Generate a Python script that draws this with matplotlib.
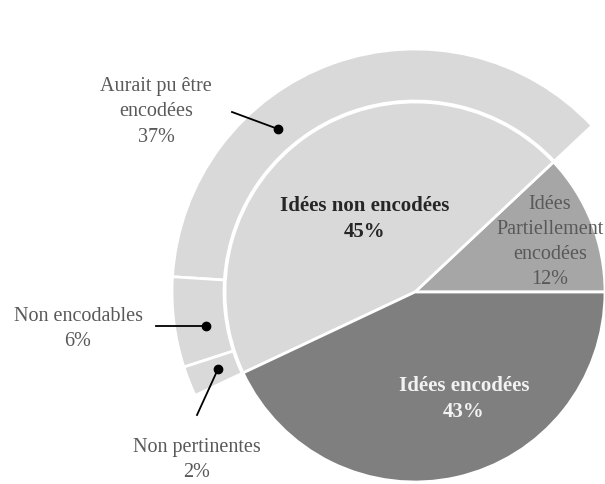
import matplotlib.pyplot as plt
import numpy as np

# inner pie: share of ideas
inner_labels = ['Idées\nPartiellement\nencodées', 'Idées non encodées', 'Idées encodées']
inner_values = [12, 45, 43]
inner_colors = ['#a6a6a6', '#d9d9d9', '#7f7f7f']

# outer ring: breakdown of the non-encoded ideas
outer_labels = ['Aurait pu être\nencodées', 'Non encodables', 'Non pertinentes']
outer_values = [37, 6, 2]

plt.rcParams['font.family'] = ['Liberation Serif', 'DejaVu Serif']

W, H = 605, 485
fig = plt.figure(figsize=(W / 100, H / 100), dpi=100)
ax = fig.add_axes([0, 0, 1, 1])

cx, cy = 415, H - 293
r_in, r_out = 190, 243

ax.pie(inner_values, colors=inner_colors, startangle=0, radius=r_in,
       center=(cx, cy), frame=True,
       wedgeprops=dict(edgecolor='white', linewidth=2))

rest = 100 - sum(outer_values)
start = 360 * inner_values[0] / 100
wedges, _ = ax.pie(outer_values + [rest], startangle=start, radius=r_out,
                   center=(cx, cy), frame=True,
                   colors=['#d9d9d9'] * 3 + ['none'],
                   wedgeprops=dict(edgecolor='white', linewidth=2, width=r_out - r_in - 1))
wedges[-1].set_edgecolor('none')
ax.set_xlim(0, W)
ax.set_ylim(0, H)
ax.set_aspect('equal')
ax.axis('off')

gray = '#595959'
fs = 14.5

# inner labels
ax.text(550, H - 242, f'{inner_labels[0]}\n{inner_values[0]}%', ha='center', va='center',
        fontsize=fs, color=gray, linespacing=1.45)
ax.text(365, H - 219, f'{inner_labels[1]}\n{inner_values[1]}%', ha='center', va='center',
        fontsize=15, color='#262626', fontweight='bold', linespacing=1.45)
ax.text(464, H - 399, f'{inner_labels[2]}\n{inner_values[2]}%', ha='center', va='center',
        fontsize=15, color='#f2f2f2', fontweight='bold', linespacing=1.45)

# outer labels with leader lines
label_pos = [(156, 112), (78, 329), (197, 460)]
line_start = [(232, 113), (156, 327), (197, 416)]
dot_pos = [(278, 130), (206, 327), (218, 370)]
for lab, val, lp, ls, dp in zip(outer_labels, outer_values, label_pos, line_start, dot_pos):
    ax.text(lp[0], H - lp[1], f'{lab}\n{val}%', ha='center', va='center',
            fontsize=fs, color=gray, linespacing=1.45)
    ax.plot([ls[0], dp[0]], [H - ls[1], H - dp[1]], color='black', lw=1.3)
    ax.plot(dp[0], H - dp[1], 'o', color='black', ms=6)

fig.savefig('out.png', dpi=100)
